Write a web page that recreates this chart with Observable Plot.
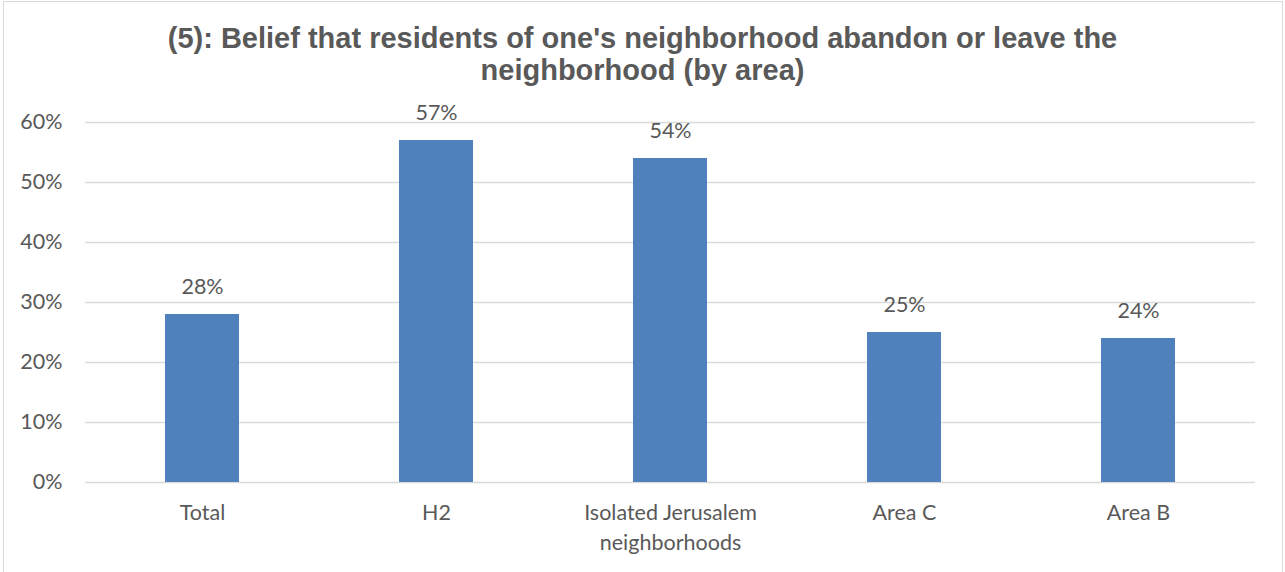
<!DOCTYPE html>
<html>
<head>
<meta charset="utf-8">
<script src="https://cdn.jsdelivr.net/npm/d3@7"></script>
<script src="https://cdn.jsdelivr.net/npm/@observablehq/plot@0.6"></script>
<style>
  html, body { margin: 0; padding: 0; background: #fff; }
  #frame { position: absolute; left: 3px; top: 1px; width: 1280px; height: 580px; border: 1px solid #d9d9d9; box-sizing: border-box; }
  #title { position: absolute; left: 0; top: 22px; width: 1285px; text-align: center; font-family: "Liberation Sans", Arial, sans-serif; font-weight: bold; font-size: 29px; line-height: 32px; color: #595959; }
  #chart { position: absolute; left: 0; top: 90px; }
</style>
</head>
<body>
<div id="frame"></div>
<div id="title">(5): Belief that residents of one's neighborhood abandon or leave the<br>neighborhood (by area)</div>
<div id="chart"></div>
<script>
const categories = ["Total", "H2", "Isolated Jerusalem neighborhoods", "Area C", "Area B"];
const values = [28, 57, 54, 25, 24];
const tickLabels = ["Total", "H2", "Isolated Jerusalem\nneighborhoods", "Area C", "Area B"];
const yTicks = [0, 10, 20, 30, 40, 50, 60];

const data = categories.map((c, i) => ({category: c, value: values[i]}));
const labelOf = new Map(categories.map((c, i) => [c, tickLabels[i]]));

const chart = Plot.plot({
  width: 1285,
  height: 482,
  marginTop: 32,
  marginBottom: 90,
  marginLeft: 85,
  marginRight: 30,
  style: {fontFamily: "Lato, 'Open Sans', sans-serif", fontSize: "21.5px", color: "#595959", background: "transparent"},
  x: {domain: categories, paddingInner: 0.684, paddingOuter: 0.342, align: 0.5, label: null},
  y: {domain: [0, 60], label: null},
  marks: [
    Plot.ruleY(yTicks, {stroke: "#d9d9d9", strokeWidth: 1.5}),
    Plot.barY(data, {x: "category", y: "value", fill: "#4f81bd"}),
    Plot.text(data, {x: "category", y: "value", text: d => d.value + "%", dy: -27, fill: "#595959", fontSize: 21.5}),
    Plot.axisY({ticks: yTicks, tickFormat: d => d + "%", tickSize: 0, tickPadding: 23, fontSize: 21.5, fill: "#595959"}),
    Plot.axisX({tickSize: 0, tickPadding: 16, fontSize: 21.5, fill: "#595959", lineHeight: 1.4, tickFormat: d => labelOf.get(d)})
  ]
});
document.getElementById("chart").appendChild(chart);
</script>
</body>
</html>
